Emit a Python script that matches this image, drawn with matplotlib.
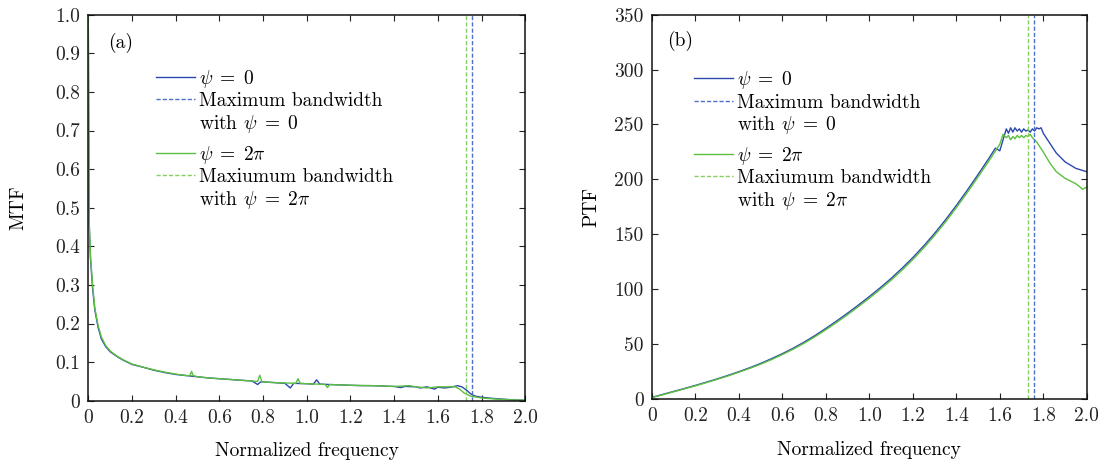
import matplotlib
matplotlib.use("Agg")
import matplotlib.pyplot as plt
from matplotlib.lines import Line2D

plt.rcParams["font.family"] = ["cmr10", "DejaVu Serif"]
plt.rcParams["mathtext.fontset"] = "cm"
plt.rcParams["axes.unicode_minus"] = False
plt.rcParams["axes.formatter.use_mathtext"] = True

# ---- data -------------------------------------------------------------
mtf_freq_0 = [0, 0.004, 0.01, 0.02, 0.03, 0.045, 0.06, 0.08, 0.1, 0.13, 0.16, 0.2,
              0.25, 0.3, 0.35, 0.4, 0.45, 0.5, 0.55, 0.6, 0.65, 0.7, 0.75, 0.775,
              0.79, 0.85, 0.9, 0.925, 0.94, 1.0, 1.03, 1.045, 1.06, 1.1, 1.15, 1.2,
              1.25, 1.3, 1.35, 1.4, 1.43, 1.45, 1.5, 1.52, 1.55, 1.585, 1.6, 1.63,
              1.66, 1.69, 1.71, 1.73, 1.75, 1.77, 1.8, 1.85, 1.9, 1.95, 2.0]
mtf_psi_0 = [1.0, 0.46, 0.37, 0.29, 0.235, 0.19, 0.16, 0.14, 0.127, 0.115, 0.105, 0.094,
             0.087, 0.079, 0.073, 0.068, 0.065, 0.062, 0.059, 0.057, 0.055, 0.053, 0.051, 0.042,
             0.049, 0.047, 0.045, 0.033, 0.045, 0.044, 0.043, 0.054, 0.043, 0.042, 0.041, 0.040,
             0.039, 0.039, 0.038, 0.037, 0.034, 0.037, 0.036, 0.033, 0.036, 0.030, 0.035, 0.033,
             0.035, 0.039, 0.036, 0.028, 0.018, 0.012, 0.009, 0.006, 0.004, 0.002, 0.001]

mtf_freq_2pi = [0, 0.004, 0.01, 0.02, 0.03, 0.045, 0.06, 0.08, 0.1, 0.13, 0.16, 0.2,
                0.25, 0.3, 0.35, 0.4, 0.45, 0.465, 0.473, 0.48, 0.5, 0.55, 0.6, 0.65,
                0.7, 0.75, 0.775, 0.785, 0.795, 0.85, 0.9, 0.95, 0.96, 0.97, 1.0, 1.05,
                1.085, 1.095, 1.105, 1.15, 1.2, 1.3, 1.4, 1.47, 1.5, 1.55, 1.6, 1.65,
                1.68, 1.7, 1.72, 1.75, 1.8, 1.85, 1.9, 1.95, 2.0]
mtf_psi_2pi = [1.0, 0.47, 0.375, 0.30, 0.24, 0.195, 0.165, 0.143, 0.129, 0.116, 0.106, 0.095,
               0.087, 0.080, 0.074, 0.069, 0.065, 0.065, 0.076, 0.065, 0.062, 0.059, 0.057, 0.055,
               0.053, 0.051, 0.050, 0.066, 0.049, 0.047, 0.046, 0.045, 0.057, 0.045, 0.044, 0.043,
               0.042, 0.034, 0.042, 0.041, 0.040, 0.039, 0.037, 0.039, 0.036, 0.033, 0.036, 0.036,
               0.036, 0.030, 0.020, 0.012, 0.007, 0.005, 0.003, 0.002, 0.001]

ptf_freq_0 = [0, 0.05, 0.1, 0.15, 0.2, 0.25, 0.3, 0.35, 0.4, 0.45, 0.5, 0.55, 0.6,
              0.65, 0.7, 0.75, 0.8, 0.85, 0.9, 0.95, 1.0, 1.05, 1.1, 1.15, 1.2, 1.25,
              1.3, 1.35, 1.4, 1.45, 1.5, 1.55, 1.58, 1.6, 1.615, 1.63, 1.64, 1.65,
              1.66, 1.67, 1.68, 1.69, 1.70, 1.71, 1.72, 1.73, 1.74, 1.75, 1.76, 1.77,
              1.78, 1.79, 1.8, 1.83, 1.86, 1.9, 1.95, 2.0]
ptf_psi_0 = [1.5, 4.2, 6.9, 9.6, 12.4, 15.3, 18.3, 21.5, 24.9, 28.5, 32.4, 36.7, 41.3,
             46.3, 51.8, 57.8, 64.3, 71.1, 78.2, 85.6, 93.3, 101.3, 109.8, 119.0, 128.8, 139.4,
             150.8, 163.1, 176.2, 190.0, 204.4, 219.2, 228.5, 226, 236, 246, 242, 247,
             243, 247, 244, 246, 243, 246, 244, 245, 243, 246, 244, 247,
             246, 247, 242, 233, 224, 216, 210, 207]

ptf_freq_2pi = [0, 0.05, 0.1, 0.15, 0.2, 0.25, 0.3, 0.35, 0.4, 0.45, 0.5, 0.55, 0.6,
                0.65, 0.7, 0.75, 0.8, 0.85, 0.9, 0.95, 1.0, 1.05, 1.1, 1.15, 1.2, 1.25,
                1.3, 1.35, 1.4, 1.45, 1.5, 1.55, 1.6, 1.615, 1.63, 1.64, 1.65, 1.66,
                1.67, 1.68, 1.69, 1.70, 1.71, 1.72, 1.73, 1.74, 1.75, 1.77, 1.8, 1.83,
                1.86, 1.9, 1.95, 1.97, 1.98, 2.0]
ptf_psi_2pi = [1.3, 3.9, 6.6, 9.3, 12.0, 14.9, 17.9, 21.0, 24.4, 27.9, 31.7, 35.9, 40.5,
               45.4, 50.8, 56.7, 63.1, 69.8, 76.8, 84.2, 91.8, 99.8, 108.2, 117.3, 127.0, 137.5,
               148.9, 161.1, 174.2, 187.9, 202.2, 216.8, 232, 241, 238, 240, 236, 239,
               237, 240, 238, 240, 238, 240, 239, 241, 238, 234, 225, 215,
               207, 201, 196, 193, 191, 193]

bandwidth_psi_0 = 1.758
bandwidth_psi_2pi = 1.731

x_ticks = [0, 0.2, 0.4, 0.6, 0.8, 1.0, 1.2, 1.4, 1.6, 1.8, 2.0]
x_tick_labels = ["0", "0.2", "0.4", "0.6", "0.8", "1.0", "1.2", "1.4", "1.6", "1.8", "2.0"]
mtf_ticks = [0, 0.1, 0.2, 0.3, 0.4, 0.5, 0.6, 0.7, 0.8, 0.9, 1.0]
mtf_tick_labels = ["0", "0.1", "0.2", "0.3", "0.4", "0.5", "0.6", "0.7", "0.8", "0.9", "1.0"]
ptf_ticks = [0, 50, 100, 150, 200, 250, 300, 350]
ptf_tick_labels = ["0", "50", "100", "150", "200", "250", "300", "350"]

label_psi_0 = r"$\psi\;=\;0$"
label_bw_0 = "Maximum bandwidth"
label_bw_0b = r"with $\psi\;=\;0$"
label_psi_2pi = r"$\psi\;=\;2\pi$"
label_bw_2pi = "Maxiumum bandwidth"
label_bw_2pib = r"with $\psi\;=\;2\pi$"

# ---- style --------------------------------------------------------------
BLUE = "#2b48ae"
BLUE_DASH = "#4f6fc9"
GREEN = "#5cbf3e"
GREEN_DASH = "#86d063"
FS = 14

fig = plt.figure(figsize=(11.13, 4.66), dpi=100)
ax_a = fig.add_axes([0.0793, 0.1401, 0.3926, 0.8283])
ax_b = fig.add_axes([0.5858, 0.1438, 0.3906, 0.8247])


def style_axes(ax, yticks, ylabels, ylim, ylabel, ypad):
    ax.set_xlim(0, 2.0)
    ax.set_ylim(*ylim)
    ax.set_xticks(x_ticks)
    ax.set_xticklabels(x_tick_labels, fontsize=FS)
    ax.set_yticks(yticks)
    ax.set_yticklabels(ylabels, fontsize=FS)
    ax.tick_params(direction="in", length=4, width=0.8, top=True, right=True,
                   pad=6, colors="#222222")
    for s in ax.spines.values():
        s.set_linewidth(1.1)
        s.set_color("#111111")
    ax.set_xlabel("Normalized frequency", fontsize=FS, labelpad=11)
    ax.set_ylabel(ylabel, fontsize=FS, labelpad=ypad)


def add_legends(ax, x0, y0):
    blank = Line2D([], [], linestyle="none")
    common = dict(loc="upper left", frameon=False, fontsize=FS, handlelength=2.0,
                  handletextpad=0.2, labelspacing=0.12, borderpad=0, borderaxespad=0)
    h1 = [Line2D([], [], color=BLUE, lw=1.0),
          Line2D([], [], color=BLUE_DASH, lw=1.0, ls="--", dashes=(3, 1.5)),
          blank]
    leg1 = ax.legend(h1, [label_psi_0, label_bw_0, label_bw_0b],
                     bbox_to_anchor=(x0, y0), **common)
    ax.add_artist(leg1)
    h2 = [Line2D([], [], color=GREEN, lw=1.0),
          Line2D([], [], color=GREEN_DASH, lw=1.0, ls="--", dashes=(3, 1.5)),
          blank]
    ax.legend(h2, [label_psi_2pi, label_bw_2pi, label_bw_2pib],
              bbox_to_anchor=(x0, y0 - 0.197), **common)


# (a) MTF
ax_a.plot(mtf_freq_0, mtf_psi_0, color=BLUE, lw=1.0)
ax_a.plot(mtf_freq_2pi, mtf_psi_2pi, color=GREEN, lw=1.0)
ax_a.axvline(bandwidth_psi_0, color=BLUE_DASH, lw=1.0, ls="--", dashes=(3, 1.5))
ax_a.axvline(bandwidth_psi_2pi, color=GREEN_DASH, lw=1.0, ls="--", dashes=(3, 1.5))
style_axes(ax_a, mtf_ticks, mtf_tick_labels, (0, 1.0), "MTF", 20)
ax_a.text(0.045, 0.927, "(a)", transform=ax_a.transAxes, fontsize=FS, va="center")
add_legends(ax_a, 0.155, 0.862)

# (b) PTF
ax_b.plot(ptf_freq_0, ptf_psi_0, color=BLUE, lw=1.0)
ax_b.plot(ptf_freq_2pi, ptf_psi_2pi, color=GREEN, lw=1.0)
ax_b.axvline(bandwidth_psi_0, color=BLUE_DASH, lw=1.0, ls="--", dashes=(3, 1.5))
ax_b.axvline(bandwidth_psi_2pi, color=GREEN_DASH, lw=1.0, ls="--", dashes=(3, 1.5))
style_axes(ax_b, ptf_ticks, ptf_tick_labels, (0, 350), "PTF", 10)
ax_b.text(0.034, 0.932, "(b)", transform=ax_b.transAxes, fontsize=FS, va="center")
add_legends(ax_b, 0.096, 0.858)

fig.savefig("out.png", dpi=100)
